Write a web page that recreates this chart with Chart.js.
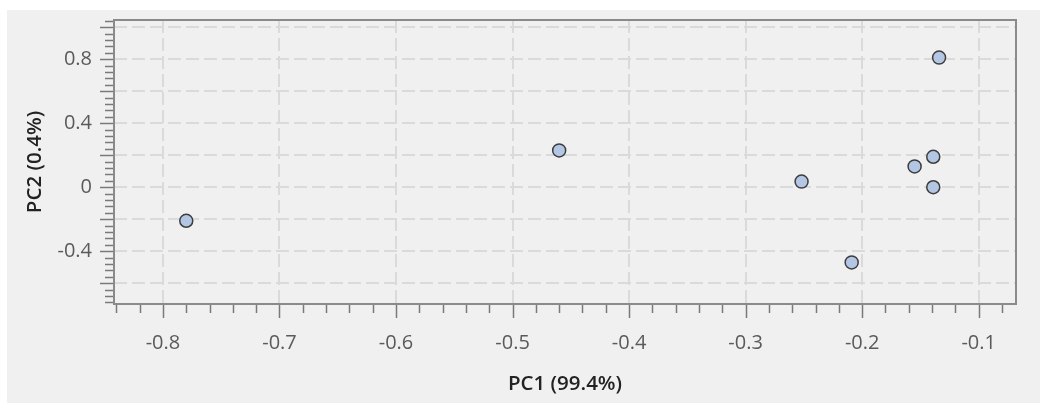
<!DOCTYPE html>
<html>
<head>
<meta charset="utf-8">
<script src="https://cdn.jsdelivr.net/npm/chart.js@4.4.1/dist/chart.umd.min.js"></script>
<style>
  html, body { margin: 0; padding: 0; background: #fff; }
  #wrap { position: absolute; left: 7px; top: 10px; width: 1033px; height: 393px; background: #f0f0f0; }
</style>
</head>
<body>
<div id="wrap"><canvas id="pcaChart" width="1033" height="393"></canvas></div>
<script>
// PCA scores
const pc1Values = [-0.780, -0.460, -0.252, -0.209, -0.155, -0.139, -0.139, -0.134];
const pc2Values = [-0.21, 0.23, 0.035, -0.47, 0.13, 0.19, 0.0, 0.81];
const xTitle = "PC1 (99.4%)";
const yTitle = "PC2 (0.4%)";

const FONT = "'Open Sans', 'Noto Sans', sans-serif";

// tick marks + frame round the plot area
const frameTicks = {
  id: "frameTicks",
  afterDraw(chart) {
    const { ctx, chartArea: a, scales } = chart;
    const xs = scales.x, ys = scales.y;
    ctx.save();
    ctx.strokeStyle = "#7a7a7a";
    ctx.lineWidth = 1.5;
    ctx.beginPath();
    for (let i = -42; i <= -4; i++) {
      const px = Math.round(xs.getPixelForValue(i / 50)) + 0.5;
      const len = i % 5 === 0 ? 14 : 9;
      ctx.moveTo(px, a.bottom);
      ctx.lineTo(px, a.bottom + len);
    }
    for (let i = -18; i <= 26; i++) {
      const py = Math.round(ys.getPixelForValue(i * 0.04)) + 0.5;
      const len = i % 5 === 0 ? 14 : 9;
      ctx.moveTo(a.left, py);
      ctx.lineTo(a.left - len, py);
    }
    ctx.stroke();
    ctx.strokeStyle = "#8a8a8a";
    ctx.lineWidth = 2;
    ctx.strokeRect(a.left, a.top, a.right - a.left, a.bottom - a.top);
    ctx.restore();
  }
};

document.addEventListener("DOMContentLoaded", () => {
  const ctx = document.getElementById("pcaChart");
  const points = pc1Values.map((x, i) => ({ x: x, y: pc2Values[i] }));

  new Chart(ctx, {
    type: "scatter",
    data: {
      datasets: [{
        data: points,
        pointRadius: 6.5,
        pointBorderWidth: 1.5,
        backgroundColor: "#b3c6e4",
        borderColor: "#3d3d3d"
      }]
    },
    options: {
      responsive: false,
      animation: false,
      layout: { padding: { top: 10, right: 24, bottom: 0, left: 0 } },
      plugins: {
        legend: { display: false },
        tooltip: { enabled: false }
      },
      scales: {
        x: {
          type: "linear",
          min: -0.842,
          max: -0.068,
          afterFit: s => { s.height = 99; s.paddingLeft = 0; s.paddingRight = 0; },
          ticks: {
            stepSize: 0.1,
            includeBounds: false,
            padding: 27,
            color: "#5a5a5a",
            font: { family: FONT, size: 20 },
            callback: v => String(Math.round(v * 10) / 10)
          },
          grid: {
            color: "#dadada",
            lineWidth: 2,
            drawTicks: false
          },
          border: { display: false, dash: [13, 5] },
          title: {
            display: true,
            text: xTitle,
            color: "#222",
            font: { family: FONT, size: 20.5, weight: "600" },
            padding: { top: 0, bottom: 6.7 }
          }
        },
        y: {
          type: "linear",
          min: -0.73,
          max: 1.045,
          afterFit: s => { s.width = 107; s.paddingTop = 0; s.paddingBottom = 0; },
          ticks: {
            stepSize: 0.2,
            includeBounds: false,
            padding: 22,
            color: "#5a5a5a",
            font: { family: FONT, size: 20 },
            callback: v => {
              const k = Math.round(v * 10);
              return k % 4 === 0 ? String(k / 10) : "";
            }
          },
          grid: {
            color: "#dadada",
            lineWidth: 2,
            drawTicks: false
          },
          border: { display: false, dash: [13, 5] },
          title: {
            display: true,
            text: yTitle,
            color: "#222",
            font: { family: FONT, size: 20.5, weight: "600" },
            padding: { top: 15.7, bottom: 0 }
          }
        }
      }
    },
    plugins: [frameTicks]
  });
});
</script>
</body>
</html>
